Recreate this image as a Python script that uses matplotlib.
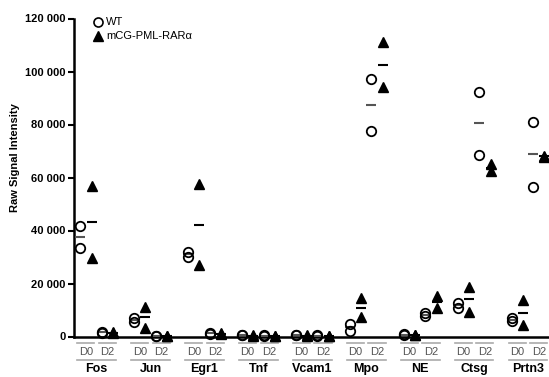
import numpy as np
import matplotlib.pyplot as plt
import matplotlib.transforms as mtransforms
from matplotlib.ticker import FuncFormatter

plt.rcParams['font.family'] = ['Liberation Sans', 'DejaVu Sans']

genes = ["Fos", "Jun", "Egr1", "Tnf", "Vcam1", "Mpo", "NE", "Ctsg", "Prtn3"]
days = ["D0", "D2"]

# raw signal, thousands; two replicates each
wt_d0 = [[41.8, 33.5], [7.0, 5.6], [32.0, 29.9], [0.5, 0.4], [0.6, 0.4],
         [4.7, 2.2], [0.9, 0.6], [12.8, 10.6], [7.0, 5.8]]
ki_d0 = [[56.9, 29.7], [11.2, 3.3], [57.4, 27.0], [0.4, 0.3], [0.4, 0.3],
         [14.4, 7.2], [0.5, 0.4], [18.8, 9.4], [13.8, 4.3]]
wt_d2 = [[1.8, 1.5], [0.3, 0.2], [1.4, 1.0], [0.4, 0.3], [0.4, 0.3],
         [97.1, 77.7], [9.0, 7.6], [92.4, 68.5], [81.0, 56.5]]
ki_d2 = [[1.6, 1.3], [0.2, 0.1], [1.2, 0.8], [0.3, 0.2], [0.3, 0.2],
         [111.2, 94.0], [15.3, 10.6], [65.2, 62.3], [68.3, 67.6]]

yticks = [0, 20000, 40000, 60000, 80000, 100000, 120000]

fig = plt.figure(figsize=(5.49, 3.77), dpi=100)
ax = fig.add_axes([74 / 549, 40.5 / 377, 475 / 549, 318 / 377])

day_off = 0.2
grp_off = 0.105

for i in range(len(genes)):
    for d, (wt, ki) in enumerate([(wt_d0, ki_d0), (wt_d2, ki_d2)]):
        xc = i + (-day_off if d == 0 else day_off)
        wv = np.array(wt[i]) * 1000
        kv = np.array(ki[i]) * 1000
        ax.plot([xc - grp_off] * len(wv), wv, 'o', ms=6.8, mfc='none', mec='black',
                mew=1.3, clip_on=False, zorder=4)
        ax.plot([xc + grp_off] * len(kv), kv, '^', ms=6.5, color='black',
                clip_on=False, zorder=4)
        ax.plot([xc - grp_off], [wv.mean()], '_', ms=6.5, mew=1.5, color='#555555', zorder=3)
        ax.plot([xc + grp_off], [kv.mean()], '_', ms=6.5, mew=1.5, color='black', zorder=3)

ax.set_xlim(-0.42, 8.39)
ax.set_ylim(0, 120000)
ax.set_yticks(yticks)
ax.yaxis.set_major_formatter(FuncFormatter(lambda v, p: f"{int(v):,}".replace(",", " ")))
for lab in ax.get_yticklabels():
    lab.set_fontweight('bold')
ax.tick_params(axis='y', labelsize=8, length=4, width=1.5, pad=2)
ax.set_xticks([])

for s in ['top', 'right']:
    ax.spines[s].set_visible(False)
ax.spines['left'].set_linewidth(1.8)
ax.spines['bottom'].set_linewidth(1.8)

# labels under the axis
trans = mtransforms.blended_transform_factory(ax.transData, ax.transAxes)
for i, g in enumerate(genes):
    for d, day in enumerate(days):
        xc = i + (-day_off if d == 0 else day_off)
        ax.plot([xc - 0.16, xc + 0.16], [-0.021, -0.021], color='#aaaaaa', lw=1.2,
                transform=trans, clip_on=False)
        ax.text(xc, -0.05, day, transform=trans, ha='center', va='center',
                fontsize=8, color='#555555')
    ax.plot([i - 0.36, i + 0.36], [-0.074, -0.074], color='#aaaaaa', lw=1.2,
            transform=trans, clip_on=False)
    ax.text(i, -0.103, g, transform=trans, ha='center', va='center',
            fontsize=9, fontweight='bold')

fig.text(15 / 549, 1 - 158 / 377, "Raw Signal Intensity", rotation=90, ha='center',
         va='center', fontsize=8, fontweight='bold')

# legend
fig.lines.append(plt.Line2D([97.7 / 549], [1 - 22.3 / 377], marker='o', ms=6.5, mfc='none',
                            mec='black', mew=1.2, transform=fig.transFigure))
fig.lines.append(plt.Line2D([97.7 / 549], [1 - 36 / 377], marker='^', ms=6.5, color='black',
                            transform=fig.transFigure))
fig.text(106 / 549, 1 - 22.3 / 377, "WT", ha='left', va='center', fontsize=8)
fig.text(106 / 549, 1 - 36 / 377, "mCG-PML-RARα", ha='left', va='center', fontsize=8)

fig.savefig("out.png", dpi=100)
